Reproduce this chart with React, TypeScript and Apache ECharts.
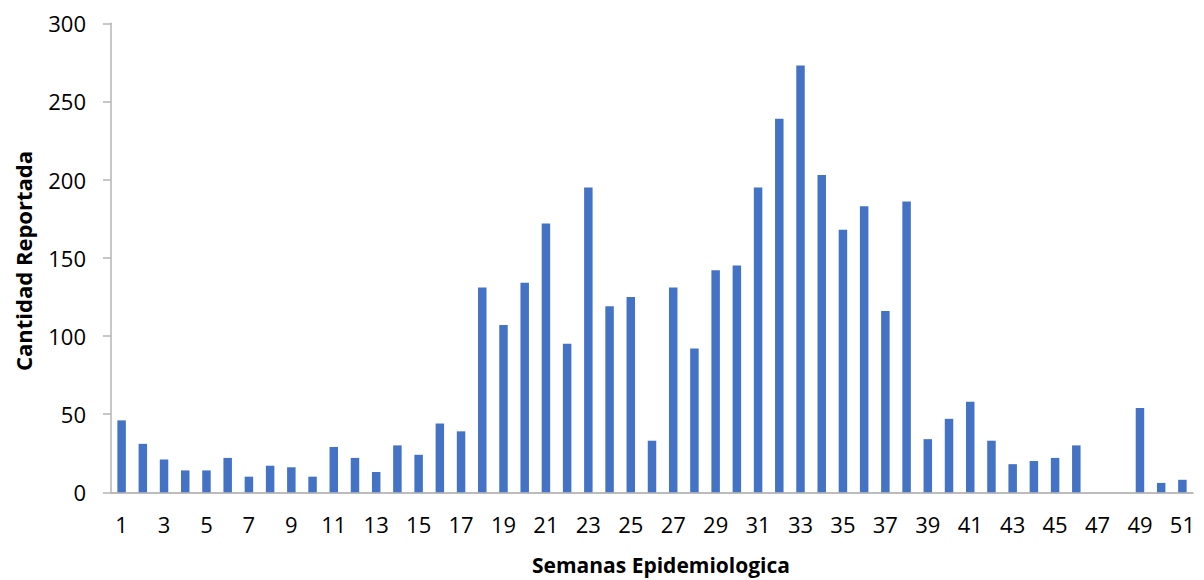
import React, { useEffect, useRef } from "react";
import * as echarts from "echarts";

const weeks: string[] = Array.from({ length: 51 }, (_, i) => String(i + 1));
const reported: number[] = [
  46, 31, 21, 14, 14, 22, 10, 17, 16, 10,
  29, 22, 13, 30, 24, 44, 39, 131, 107, 134,
  172, 95, 195, 119, 125, 33, 131, 92, 142, 145,
  195, 239, 273, 203, 168, 183, 116, 186, 34, 47,
  58, 33, 18, 20, 22, 30, 0, 0, 54, 6,
  8,
];
const yTitle = "Cantidad Reportada";
const xTitle = "Semanas Epidemiologica";

const FONT = "'Open Sans', 'DejaVu Sans', sans-serif";

export default function App() {
  const ref = useRef<HTMLDivElement>(null);
  useEffect(() => {
    if (!ref.current) return;
    const chart = echarts.init(ref.current, undefined, { renderer: "svg" });
    chart.setOption({
      animation: false,
      backgroundColor: "#ffffff",
      grid: { left: 111, right: 11, top: 23.3, bottom: 87.7, containLabel: false },
      xAxis: {
        type: "category",
        data: weeks,
        axisLine: { show: true, lineStyle: { color: "#A6A6A6", width: 1.5 } },
        axisTick: { show: false },
        axisLabel: {
          interval: 1,
          margin: 21,
          color: "#000000",
          fontSize: 22,
          fontFamily: FONT,
        },
        splitLine: { show: false },
      },
      yAxis: {
        type: "value",
        min: 0,
        max: 300,
        interval: 50,
        axisLine: { show: true, lineStyle: { color: "#B4B4B4", width: 1.5 } },
        axisTick: { show: true, inside: false, length: 8, lineStyle: { color: "#B4B4B4", width: 1.5 } },
        axisLabel: {
          margin: 25,
          color: "#000000",
          fontSize: 22,
          fontFamily: FONT,
        },
        splitLine: { show: false },
      },
      graphic: [
        {
          type: "text",
          x: 23,
          y: 261,
          rotation: Math.PI / 2,
          style: {
            text: yTitle,
            fontSize: 22,
            fontWeight: "bold",
            fontFamily: FONT,
            fill: "#000000",
            align: "center",
            verticalAlign: "middle",
          },
        },
        {
          type: "text",
          x: 661,
          y: 565,
          style: {
            text: xTitle,
            fontSize: 21,
            fontWeight: "bold",
            fontFamily: FONT,
            fill: "#000000",
            align: "center",
            verticalAlign: "middle",
          },
        },
      ],
      series: [
        {
          type: "bar",
          data: reported,
          barWidth: "40%",
          itemStyle: { color: "#4472C4" },
        },
      ],
    });
    return () => chart.dispose();
  }, []);
  return (
    <div
      ref={ref}
      style={{ position: "fixed", left: 0, top: 0, width: 1204, height: 580 }}
    />
  );
}
